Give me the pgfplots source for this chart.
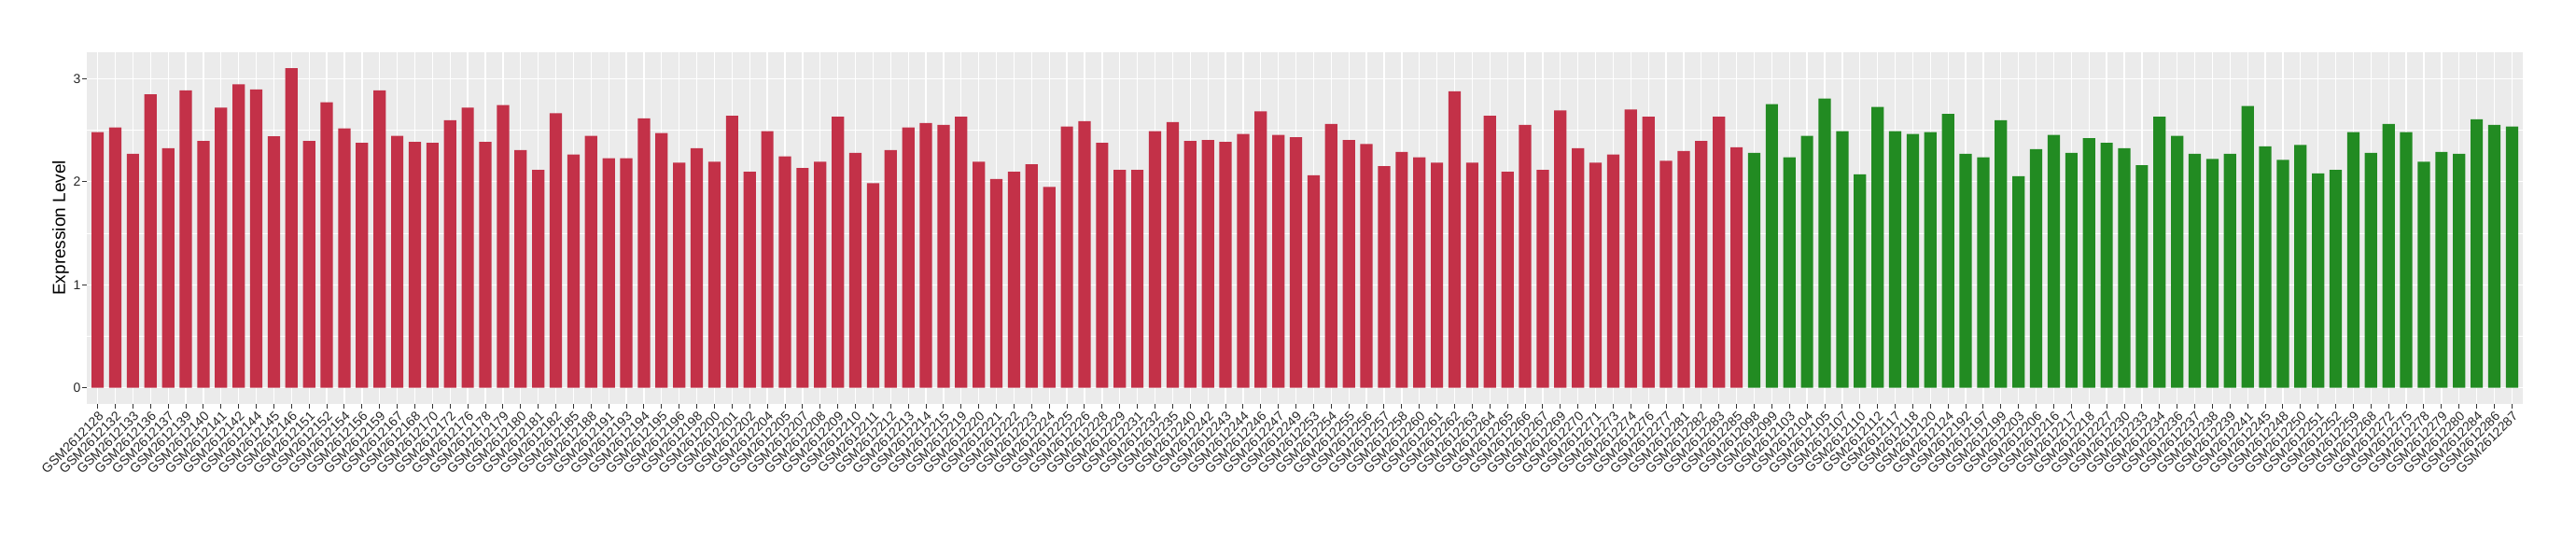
\documentclass[border=0pt]{standalone}
\usepackage{pgfplots}
\pgfplotsset{compat=1.18}
\usepackage{fontspec}
\setmainfont{Liberation Sans}
\definecolor{ggbg}{RGB}{235,235,235}
\definecolor{ggred}{RGB}{195,49,72}
\definecolor{gggreen}{RGB}{34,139,34}
\begin{document}
\begin{tikzpicture}
\useasboundingbox (-46.65pt,-73.65pt) rectangle (1333.35pt,216.35pt);
\begin{axis}[
  at={(0,0)}, anchor=south west,
  scale only axis, width=1304.7pt, height=188.35pt,
  xmin=-0.6, xmax=137.6, ymin=-0.155, ymax=3.257,
  axis background/.style={fill=ggbg},
  axis line style={draw=none},
  xtick={0,...,137},
  xticklabels={GSM2612128,GSM2612132,GSM2612133,GSM2612136,GSM2612137,GSM2612139,GSM2612140,GSM2612141,GSM2612142,GSM2612144,GSM2612145,GSM2612146,GSM2612151,GSM2612152,GSM2612154,GSM2612156,GSM2612159,GSM2612167,GSM2612168,GSM2612170,GSM2612172,GSM2612176,GSM2612178,GSM2612179,GSM2612180,GSM2612181,GSM2612182,GSM2612185,GSM2612188,GSM2612191,GSM2612193,GSM2612194,GSM2612195,GSM2612196,GSM2612198,GSM2612200,GSM2612201,GSM2612202,GSM2612204,GSM2612205,GSM2612207,GSM2612208,GSM2612209,GSM2612210,GSM2612211,GSM2612212,GSM2612213,GSM2612214,GSM2612215,GSM2612219,GSM2612220,GSM2612221,GSM2612222,GSM2612223,GSM2612224,GSM2612225,GSM2612226,GSM2612228,GSM2612229,GSM2612231,GSM2612232,GSM2612235,GSM2612240,GSM2612242,GSM2612243,GSM2612244,GSM2612246,GSM2612247,GSM2612249,GSM2612253,GSM2612254,GSM2612255,GSM2612256,GSM2612257,GSM2612258,GSM2612260,GSM2612261,GSM2612262,GSM2612263,GSM2612264,GSM2612265,GSM2612266,GSM2612267,GSM2612269,GSM2612270,GSM2612271,GSM2612273,GSM2612274,GSM2612276,GSM2612277,GSM2612281,GSM2612282,GSM2612283,GSM2612285,GSM2612098,GSM2612099,GSM2612103,GSM2612104,GSM2612105,GSM2612107,GSM2612110,GSM2612112,GSM2612117,GSM2612118,GSM2612120,GSM2612124,GSM2612192,GSM2612197,GSM2612199,GSM2612203,GSM2612206,GSM2612216,GSM2612217,GSM2612218,GSM2612227,GSM2612230,GSM2612233,GSM2612234,GSM2612236,GSM2612237,GSM2612238,GSM2612239,GSM2612241,GSM2612245,GSM2612248,GSM2612250,GSM2612251,GSM2612252,GSM2612259,GSM2612268,GSM2612272,GSM2612275,GSM2612278,GSM2612279,GSM2612280,GSM2612284,GSM2612286,GSM2612287},
  ytick={0,1,2,3}, minor ytick={0.5,1.5,2.5},
  xmajorgrids, ymajorgrids, yminorgrids,
  major grid style={white, line width=0.65pt},
  minor grid style={white, line width=0.33pt},
  tick align=outside, major tick length=2.4pt, minor tick length=0pt,
  tick style={black!80, line width=0.5pt},
  tick pos=left,
  /pgf/number format/assume math mode=true,
  xticklabel style={rotate=45, anchor=north east, inner sep=0.8pt, font=\fontsize{7}{8}\selectfont, text=black!85},
  yticklabel style={inner sep=0.8pt, font=\fontsize{7}{8}\selectfont, text=black!85},
  every axis y label/.style={at={(axis description cs:-0.0109,0.5)}, rotate=90, anchor=center, font=\fontsize{9.5}{11}\selectfont},
  ylabel={Expression Level},
]
\addplot[ybar, bar width=0.7, bar shift=0pt, fill=ggred, draw=none] coordinates {
(0,2.482)(1,2.527)(2,2.271)(3,2.849)(4,2.325)(5,2.886)(6,2.395)(7,2.720)(8,2.946)(9,2.895)(10,2.440)(11,3.102)(12,2.395)(13,2.771)(14,2.518)(15,2.377)(16,2.886)(17,2.446)(18,2.386)(19,2.377)(20,2.596)(21,2.720)(22,2.386)(23,2.744)(24,2.307)(25,2.114)(26,2.666)(27,2.265)(28,2.446)(29,2.229)(30,2.229)(31,2.614)(32,2.473)(33,2.184)(34,2.325)(35,2.193)(36,2.639)(37,2.096)(38,2.491)(39,2.247)(40,2.133)(41,2.193)(42,2.630)(43,2.280)(44,1.985)(45,2.307)(46,2.527)(47,2.569)(48,2.551)(49,2.630)(50,2.193)(51,2.027)(52,2.096)(53,2.169)(54,1.949)(55,2.536)(56,2.587)(57,2.377)(58,2.114)(59,2.114)(60,2.491)(61,2.578)(62,2.395)(63,2.404)(64,2.386)(65,2.464)(66,2.684)(67,2.455)(68,2.431)(69,2.063)(70,2.560)(71,2.404)(72,2.367)(73,2.151)(74,2.289)(75,2.238)(76,2.184)(77,2.877)(78,2.184)(79,2.639)(80,2.096)(81,2.551)(82,2.114)(83,2.693)(84,2.325)(85,2.184)(86,2.265)(87,2.702)(88,2.630)(89,2.202)(90,2.298)(91,2.395)(92,2.630)(93,2.334)
};
\addplot[ybar, bar width=0.7, bar shift=0pt, fill=gggreen, draw=none] coordinates {
(94,2.280)(95,2.753)(96,2.238)(97,2.446)(98,2.807)(99,2.491)(100,2.072)(101,2.726)(102,2.491)(103,2.464)(104,2.482)(105,2.657)(106,2.271)(107,2.238)(108,2.596)(109,2.054)(110,2.316)(111,2.455)(112,2.280)(113,2.422)(114,2.377)(115,2.325)(116,2.160)(117,2.630)(118,2.446)(119,2.271)(120,2.220)(121,2.271)(122,2.735)(123,2.343)(124,2.211)(125,2.358)(126,2.081)(127,2.114)(128,2.482)(129,2.280)(130,2.560)(131,2.482)(132,2.193)(133,2.289)(134,2.271)(135,2.605)(136,2.551)(137,2.536)
};
\end{axis}
\end{tikzpicture}
\end{document}
